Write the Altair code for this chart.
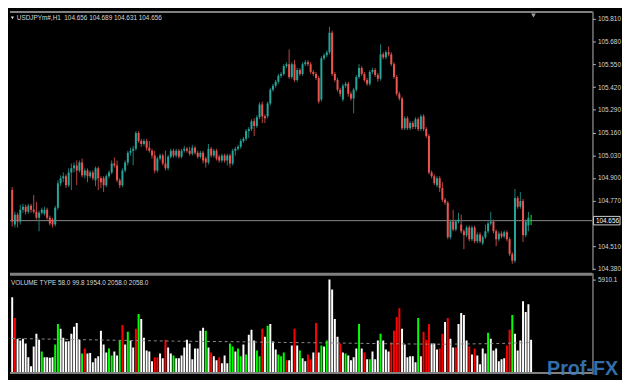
import altair as alt
import pandas as pd

symbol = "USDJPYm#,H1"

open_ = [
    104.831, 104.634, 104.690, 104.651, 104.718, 104.735, 104.707, 104.741, 104.718, 104.707,
    104.673, 104.701, 104.696, 104.718, 104.673, 104.662, 104.634, 104.730, 104.870, 104.898,
    104.910, 104.859, 104.932, 104.955, 104.972, 104.943, 104.988, 104.915, 104.943, 104.910,
    104.932, 104.887, 104.955, 104.898, 104.898, 104.859, 104.910, 104.932, 104.983, 104.972,
    104.887, 104.859, 104.943, 104.988, 105.045, 105.056, 105.067, 105.157, 105.112, 105.095,
    105.112, 105.073, 105.056, 105.028, 104.943, 105.011, 105.028, 104.983, 104.955, 105.022,
    105.056, 105.028, 105.056, 105.022, 105.056, 105.067, 105.056, 105.039, 105.073, 105.045,
    105.022, 105.045, 105.011, 104.988, 105.067, 105.028, 105.056, 105.022, 105.000, 105.028,
    105.000, 105.028, 104.983, 105.056, 105.067, 105.078, 105.112, 105.124, 105.168, 105.180,
    105.225, 105.197, 105.247, 105.320, 105.253, 105.253, 105.326, 105.405, 105.427, 105.450,
    105.484, 105.495, 105.540, 105.551, 105.478, 105.551, 105.461, 105.517, 105.495, 105.551,
    105.562, 105.551, 105.506, 105.495, 105.472, 105.349, 105.585, 105.602, 105.619, 105.731,
    105.495, 105.461, 105.405, 105.349, 105.427, 105.439, 105.382, 105.354, 105.405, 105.478,
    105.529, 105.495, 105.461, 105.439, 105.506, 105.517, 105.489, 105.467, 105.607, 105.591,
    105.619, 105.607, 105.551, 105.478, 105.382, 105.354, 105.185, 105.242, 105.185, 105.214,
    105.191, 105.236, 105.180, 105.253, 105.180, 105.140, 104.932, 104.910, 104.859, 104.898,
    104.842, 104.775, 104.758, 104.561, 104.651, 104.606, 104.651, 104.634, 104.595, 104.572,
    104.617, 104.550, 104.617, 104.538, 104.577, 104.527, 104.561, 104.595, 104.640, 104.651,
    104.595, 104.550, 104.583, 104.566, 104.589, 104.550, 104.465, 104.426, 104.786, 104.735,
    104.769, 104.572, 104.628, 104.656,
]
high = [
    104.848, 104.707, 104.701, 104.747, 104.752, 104.747, 104.752, 104.752, 104.803, 104.763,
    104.713, 104.730, 104.735, 104.730, 104.685, 104.673, 104.741, 104.887, 104.915, 104.932,
    104.921, 104.955, 104.983, 104.988, 105.000, 105.000, 105.011, 104.955, 104.955, 104.943,
    104.943, 104.966, 104.966, 104.910, 104.910, 104.921, 104.943, 105.000, 105.017, 105.000,
    104.898, 104.955, 105.000, 105.056, 105.073, 105.084, 105.168, 105.168, 105.124, 105.124,
    105.124, 105.112, 105.067, 105.056, 105.022, 105.039, 105.039, 105.056, 105.033, 105.067,
    105.067, 105.067, 105.067, 105.067, 105.084, 105.078, 105.078, 105.090, 105.084, 105.056,
    105.056, 105.056, 105.022, 105.095, 105.078, 105.067, 105.067, 105.033, 105.039, 105.039,
    105.039, 105.039, 105.067, 105.078, 105.090, 105.124, 105.135, 105.180, 105.191, 105.236,
    105.242, 105.259, 105.332, 105.337, 105.264, 105.337, 105.416, 105.439, 105.461, 105.495,
    105.506, 105.551, 105.562, 105.636, 105.562, 105.574, 105.529, 105.529, 105.562, 105.574,
    105.574, 105.562, 105.517, 105.506, 105.484, 105.596, 105.613, 105.630, 105.765, 105.742,
    105.506, 105.472, 105.416, 105.439, 105.450, 105.450, 105.394, 105.416, 105.489, 105.551,
    105.540, 105.506, 105.472, 105.517, 105.529, 105.529, 105.501, 105.664, 105.619, 105.630,
    105.652, 105.619, 105.562, 105.489, 105.394, 105.365, 105.253, 105.253, 105.225, 105.225,
    105.247, 105.247, 105.264, 105.264, 105.191, 105.152, 104.943, 104.921, 104.910, 104.910,
    104.876, 104.786, 104.769, 104.662, 104.718, 104.662, 104.701, 104.690, 104.606, 104.628,
    104.628, 104.628, 104.628, 104.589, 104.589, 104.572, 104.634, 104.651, 104.707, 104.662,
    104.606, 104.595, 104.595, 104.600, 104.600, 104.561, 104.476, 104.837, 104.797, 104.820,
    104.780, 104.662, 104.707, 104.689,
]
low = [
    104.623, 104.617, 104.617, 104.634, 104.701, 104.690, 104.696, 104.701, 104.696, 104.662,
    104.595, 104.690, 104.685, 104.662, 104.628, 104.617, 104.623, 104.718, 104.853, 104.876,
    104.842, 104.848, 104.831, 104.932, 104.859, 104.932, 104.904, 104.898, 104.876, 104.898,
    104.887, 104.853, 104.831, 104.842, 104.820, 104.848, 104.898, 104.921, 104.960, 104.876,
    104.842, 104.848, 104.932, 104.972, 105.028, 104.972, 105.056, 105.101, 105.078, 105.084,
    105.056, 105.045, 105.011, 104.927, 104.932, 105.000, 104.972, 104.943, 104.943, 105.011,
    105.017, 105.017, 105.011, 105.011, 105.045, 105.045, 105.028, 105.028, 105.033, 105.011,
    105.011, 104.983, 104.960, 104.977, 105.017, 105.017, 105.000, 104.988, 104.988, 104.988,
    104.972, 104.960, 104.972, 105.028, 105.056, 105.067, 105.101, 105.112, 105.129, 105.168,
    105.140, 105.185, 105.236, 105.214, 105.214, 105.242, 105.315, 105.394, 105.416, 105.439,
    105.472, 105.484, 105.529, 105.467, 105.467, 105.450, 105.450, 105.484, 105.484, 105.540,
    105.540, 105.495, 105.484, 105.461, 105.326, 105.337, 105.574, 105.591, 105.607, 105.484,
    105.450, 105.394, 105.365, 105.337, 105.416, 105.365, 105.343, 105.270, 105.394, 105.467,
    105.484, 105.450, 105.427, 105.427, 105.495, 105.478, 105.450, 105.456, 105.579, 105.579,
    105.596, 105.540, 105.467, 105.371, 105.343, 105.174, 105.174, 105.174, 105.174, 105.180,
    105.180, 105.168, 105.168, 105.168, 105.129, 104.921, 104.898, 104.859, 104.848, 104.820,
    104.763, 104.747, 104.550, 104.550, 104.595, 104.595, 104.640, 104.583, 104.493, 104.561,
    104.538, 104.538, 104.527, 104.527, 104.527, 104.516, 104.550, 104.583, 104.628, 104.583,
    104.510, 104.538, 104.555, 104.555, 104.538, 104.454, 104.409, 104.414, 104.724, 104.724,
    104.533, 104.561, 104.595, 104.631,
]
close = [
    104.651, 104.690, 104.651, 104.718, 104.735, 104.707, 104.741, 104.718, 104.707, 104.673,
    104.701, 104.718, 104.718, 104.673, 104.640, 104.634, 104.730, 104.870, 104.898, 104.910,
    104.859, 104.932, 104.955, 104.972, 104.943, 104.988, 104.915, 104.943, 104.910, 104.932,
    104.898, 104.955, 104.898, 104.876, 104.859, 104.910, 104.932, 104.983, 104.972, 104.887,
    104.859, 104.943, 104.988, 105.045, 105.056, 105.067, 105.157, 105.112, 105.095, 105.112,
    105.073, 105.056, 105.028, 104.943, 105.011, 105.028, 104.983, 104.955, 105.022, 105.056,
    105.028, 105.056, 105.022, 105.056, 105.067, 105.056, 105.039, 105.073, 105.045, 105.022,
    105.045, 105.000, 104.988, 105.067, 105.028, 105.056, 105.011, 105.000, 105.028, 105.000,
    105.028, 104.983, 105.056, 105.067, 105.078, 105.112, 105.124, 105.168, 105.180, 105.225,
    105.197, 105.247, 105.320, 105.253, 105.242, 105.326, 105.405, 105.427, 105.450, 105.484,
    105.495, 105.540, 105.551, 105.478, 105.551, 105.461, 105.517, 105.495, 105.551, 105.562,
    105.551, 105.506, 105.495, 105.472, 105.337, 105.585, 105.602, 105.619, 105.731, 105.495,
    105.461, 105.405, 105.382, 105.427, 105.439, 105.382, 105.354, 105.405, 105.478, 105.529,
    105.495, 105.461, 105.439, 105.506, 105.517, 105.489, 105.467, 105.607, 105.591, 105.619,
    105.607, 105.551, 105.478, 105.382, 105.354, 105.185, 105.242, 105.185, 105.214, 105.191,
    105.236, 105.180, 105.253, 105.180, 105.140, 104.932, 104.910, 104.870, 104.898, 104.842,
    104.775, 104.758, 104.561, 104.651, 104.606, 104.651, 104.662, 104.595, 104.572, 104.617,
    104.550, 104.617, 104.538, 104.577, 104.538, 104.561, 104.595, 104.640, 104.651, 104.595,
    104.550, 104.583, 104.566, 104.589, 104.550, 104.465, 104.426, 104.786, 104.735, 104.769,
    104.572, 104.651, 104.673, 104.656,
]
volume = [
    4825, 3559, 2292, 2172, 2292, 1991, 1147, 604, 1810, 2594,
    2232, 1508, 1147, 1147, 1120, 1160, 1930, 3197, 2895, 2353,
    2111, 2140, 2594, 3016, 3257, 2232, 1388, 1689, 1388, 1410,
    845, 1086, 1207, 2775, 1930, 1448, 1689, 1267, 1508, 1267,
    2172, 3136, 1930, 2714, 2172, 1750, 2895, 3800, 3498, 2353,
    1569, 1508, 905, 1147, 1147, 1388, 1086, 2232, 1750, 1388,
    1267, 1086, 1086, 1267, 1750, 2232, 1991, 1026, 1689, 1689,
    2775, 2956, 2775, 1750, 1448, 1207, 966, 1147, 785, 1267,
    785, 1991, 1810, 1508, 1689, 1207, 1930, 1327, 2533, 2835,
    2172, 1569, 1207, 2895, 2413, 3076, 3197, 2111, 1629, 1327,
    1207, 1448, 966, 966, 1870, 2895, 1870, 1569, 1086, 905,
    1327, 1026, 1448, 3257, 1448, 1870, 1810, 2172, 5910.1, 5307,
    3498, 2413, 1991, 1448, 1388, 1267, 966, 1147, 1689, 3197,
    1689, 1448, 1026, 1026, 1508, 1026, 2172, 2594, 2172, 1629,
    1508, 2051, 2775, 3619, 4162, 2895, 1930, 1147, 1207, 1207,
    845, 3559, 1207, 2714, 2232, 3197, 1991, 1991, 1629, 1689,
    2594, 3317, 3559, 2292, 1750, 1750, 3197, 3860, 3739, 2172,
    1810, 1327, 1689, 1267, 724, 1689, 1388, 2654, 2292, 1569,
    1689, 905, 1026, 1086, 1870, 2835, 3739, 2594, 1569, 2172,
    4584, 3920, 4403, 2232,
]
vol_type = list(
    "wrwwwwwwww" "wgwwwwggww" "wwwwwwgrww" "wwwwwwggww" "grwgwwrgww"
    "wwwrrwwrww" "gwwwwwwwww" "wwgwrwwrww" "wggwggwgww" "wggrwgwwwg"
    "ggrwwrwgww" "rrwrwgwgww" "wwrwgwwwwg" "wrwgwwwgww" "wrrrrwwwww"
    "wgwrrrwwwr" "rwrwwrwwww" "rwrwwwwgww" "wwwwrrgwww" "wwww"
)
ma_idx = [0, 20, 40, 60, 80, 100, 120, 140, 160, 180, 193]
ma_val = [2300, 2250, 2190, 2140, 2110, 2060, 2030, 1980, 1950, 1990, 2058]

# 104.640 is hidden under the current-price box in the reference, so it is left out
price_ticks = [105.81, 105.68, 105.55, 105.42, 105.29, 105.16, 105.03,
               104.90, 104.77, 104.51, 104.38]
vol_header = [58.0, 99.8, 1954.0, 2058.0, 2058.0]
vol_max_label = 5910.1

# ---- styling ----
FONT = "Liberation Sans"
FS = 6.5
body_colors = {"up": "#26a69a", "down": "#ef5350", "flat": "#00ff00"}
wick_colors = {"up": "#1d8178", "down": "#c04444", "flat": "#00ff00"}
vol_colors = {"w": "#ffffff", "g": "#00ff00", "r": "#ff0000"}

n = len(close)
df = pd.DataFrame({
    "idx": list(range(n)), "open": open_, "high": high, "low": low,
    "close": close, "volume": volume, "vtype": vol_type,
})
df["dir"] = ["up" if c > o else ("down" if c < o else "flat") for o, c in zip(open_, close)]
df["body_c"] = df["dir"].map(body_colors)
df["wick_c"] = df["dir"].map(wick_colors)
df["vol_c"] = df["vtype"].map(vol_colors)

W, H1, H2 = 592, 263, 103

xs = alt.Scale(domain=[1, 214], nice=False, zero=False)
X = alt.X("idx:Q", scale=xs, axis=None)

ps = alt.Scale(domain=[104.375, 105.855], nice=False, zero=False)
axis_common = dict(orient="right", labelColor="#d4d4d4", labelFont=FONT, labelFontSize=FS,
                   tickColor="#b0b0b0", tickSize=3, domainColor="#b8b8b8", domainWidth=1,
                   grid=False, title=None, labelPadding=2)
price_axis = alt.Axis(values=price_ticks, format=".3f", **axis_common)

base = alt.Chart(df)

pline_df = pd.DataFrame({"price": [close[-1]], "label": [f"{close[-1]:.3f}"]})
pline = alt.Chart(pline_df).mark_rule(color="#8a8a8a", strokeWidth=1).encode(
    y=alt.Y("price:Q", scale=ps, axis=price_axis))

wicks = base.mark_rule(strokeWidth=1, clip=True).encode(
    x=X, y=alt.Y("low:Q", scale=ps, axis=price_axis), y2="high:Q",
    color=alt.Color("wick_c:N", scale=None))
bodies = base.mark_bar(size=2, clip=True).encode(
    x=X, y=alt.Y("open:Q", scale=ps, axis=price_axis), y2="close:Q",
    color=alt.Color("body_c:N", scale=None))

pbox = alt.Chart(pline_df).mark_point(
    shape="M-1,-0.32L1,-0.32L1,0.32L-1,0.32Z", filled=True, fill="#000000",
    stroke="#d0d0d0", strokeWidth=1, opacity=1, size=27 * 27).encode(
    x=alt.value(W + 14.5), y=alt.Y("price:Q", scale=ps, axis=price_axis))
ptext = alt.Chart(pline_df).mark_text(
    align="left", baseline="middle", color="#ffffff", font=FONT, fontSize=FS).encode(
    x=alt.value(W + 3.5), y=alt.Y("price:Q", scale=ps, axis=price_axis), text="label:N")

hdr_df = pd.DataFrame({"t": [f"{symbol}\u00a0 {open_[-1]:.3f} {high[-1]:.3f} {low[-1]:.3f} {close[-1]:.3f}"]})
hdr = alt.Chart(hdr_df).mark_text(
    align="left", baseline="middle", color="#d8d8d8", font=FONT, fontSize=FS).encode(
    x=alt.value(7), y=alt.value(7), text="t:N")
hdr_tri = alt.Chart(hdr_df).mark_point(shape="triangle-down", filled=True, color="#e0e0e0",
                                       size=10, opacity=1).encode(x=alt.value(2.5), y=alt.value(7))
shift_tri = alt.Chart(hdr_df).mark_point(shape="triangle-down", filled=True, color="#a0a0a0",
                                         size=22, opacity=1).encode(x=alt.value(532), y=alt.value(4.5))
top_rule = alt.Chart(hdr_df).mark_rule(color="#808080", strokeWidth=2).encode(y=alt.value(1))

top = alt.layer(pline, wicks, bodies, pbox, ptext, hdr, hdr_tri, shift_tri, top_rule).properties(
    width=W, height=H1)

# ---- volume panel ----
vs = alt.Scale(domain=[121, 6332], nice=False, zero=False)
vol_axis = alt.Axis(values=[vol_max_label], format=".1f", **axis_common)

vbars = base.mark_bar(size=2, clip=True).encode(
    x=X, y=alt.Y("volume:Q", scale=vs, axis=vol_axis),
    color=alt.Color("vol_c:N", scale=None))

ma_df = pd.DataFrame({"idx": ma_idx, "ma": ma_val})
maline = alt.Chart(ma_df).mark_line(color="#8c8c8c", strokeWidth=1, strokeDash=[3, 3], clip=True).encode(
    x=X, y=alt.Y("ma:Q", scale=vs, axis=vol_axis))

vh_df = pd.DataFrame({"t": ["VOLUME TYPE " + " ".join(f"{v:.1f}" for v in vol_header)]})
vhdr = alt.Chart(vh_df).mark_text(
    align="left", baseline="middle", color="#d8d8d8", font=FONT, fontSize=FS).encode(
    x=alt.value(1), y=alt.value(10), text="t:N")
sep_rule = alt.Chart(vh_df).mark_rule(color="#808080", strokeWidth=3).encode(y=alt.value(1.5))
bot_rule = alt.Chart(vh_df).mark_rule(color="#808080", strokeWidth=2).encode(y=alt.value(H2 - 1))

wm_df = pd.DataFrame({"t": ["Prof-FX"]})
watermark = alt.Chart(wm_df).mark_text(
    align="right", baseline="alphabetic", color="#3c82c8", opacity=0.85, font=FONT,
    fontSize=20, fontWeight="bold").encode(x=alt.value(W + 26), y=alt.value(H2 + 1), text="t:N")

bottom = alt.layer(vbars, maline, vhdr, sep_rule, bot_rule, watermark).properties(width=W, height=H2)

chart = alt.vconcat(top, bottom, spacing=0).properties(
    padding={"left": 0, "top": 0, "right": 0, "bottom": 0},
    background="#000000",
).configure_view(strokeWidth=0).configure_concat(spacing=0)

chart.save("out.html", embed_options={"renderer": "svg", "actions": False})
